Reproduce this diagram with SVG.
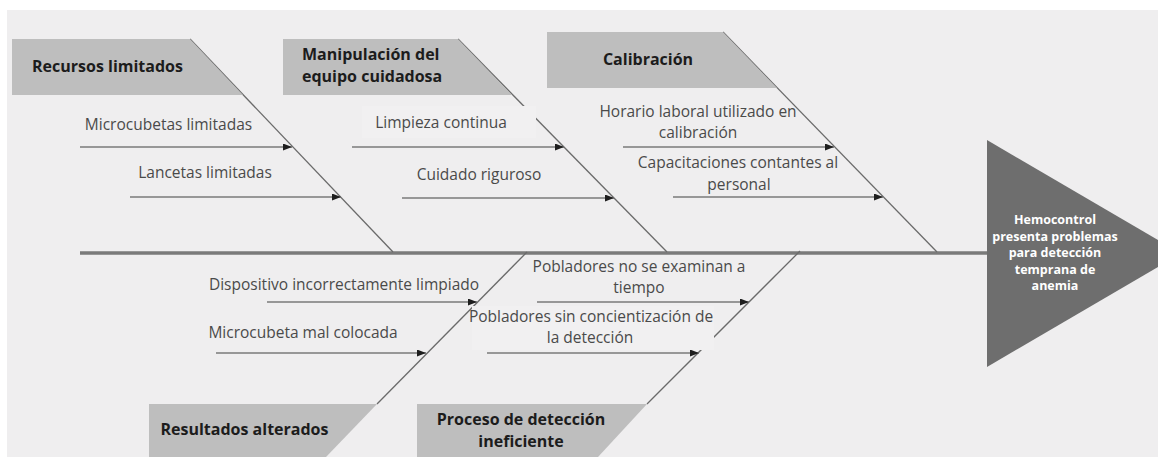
<svg xmlns="http://www.w3.org/2000/svg" width="1158" height="457" viewBox="0 0 1158 457">
<defs>
<marker id="ah" markerUnits="userSpaceOnUse" markerWidth="9" markerHeight="7" refX="9" refY="3.5" orient="auto"><path d="M0,0 L9,3.5 L0,7 z" fill="#1e1e1e"/></marker>
<style>
.bg{fill:#efeeef}
.box{fill:#bebebe}
.tb{fill:#f1f0f1}
.diag{stroke:#6a6a6a;stroke-width:1.3;fill:none}
.arr{stroke:#7a7a7a;stroke-width:1.6;fill:none;marker-end:url(#ah)}
.spine{stroke:#7a7a7a;stroke-width:3.5}
.t{font-family:"Open Sans","DejaVu Sans",sans-serif;font-size:15.5px;fill:#4a4a4a;text-anchor:middle}
.b{font-family:"Open Sans","DejaVu Sans",sans-serif;font-size:16px;font-weight:bold;fill:#1c1c1c}
.h{font-family:"Open Sans","DejaVu Sans",sans-serif;font-size:12.5px;font-weight:bold;fill:#ffffff;text-anchor:middle}
</style>
</defs>
<rect x="0" y="0" width="1158" height="457" fill="#ffffff"/>
<rect class="bg" x="7" y="10" width="1151" height="447"/>

<g id="connectors">
<line class="spine" x1="80" y1="253" x2="990" y2="253"/>
<line class="diag" x1="190" y1="39" x2="393" y2="252"/>
<line class="diag" x1="458" y1="39" x2="667" y2="252"/>
<line class="diag" x1="723" y1="32" x2="937" y2="252"/>
<line class="diag" x1="377" y1="404" x2="527" y2="252"/>
<line class="diag" x1="647" y1="404" x2="800" y2="251"/>
</g>

<g id="head">
<polygon points="987,140 1181,253.5 987,367" fill="#6e6e6e"/>
<text class="h" x="1055" y="224">Hemocontrol</text>
<text class="h" x="1055" y="240.5">presenta problemas</text>
<text class="h" x="1055" y="257">para detección</text>
<text class="h" x="1055" y="273.5">temprana de</text>
<text class="h" x="1055" y="290">anemia</text>
</g>

<g id="cat-recursos">
<polygon class="box" points="12,39 190,39 243,95 12,95"/>
<text class="b" x="32" y="72">Recursos limitados</text>
</g>
<g id="cat-manipulacion">
<polygon class="box" points="283,39 458,39 512,95 283,95"/>
<text class="b" x="302" y="60">Manipulación del</text>
<text class="b" x="302" y="82">equipo cuidadosa</text>
</g>
<g id="cat-calibracion">
<polygon class="box" points="547,32 723,32 777,88 547,88"/>
<text class="b" x="648" y="65" text-anchor="middle">Calibración</text>
</g>
<g id="cat-resultados">
<polygon class="box" points="149,404 377,404 326,457 149,457"/>
<text class="b" x="244.5" y="435" text-anchor="middle">Resultados alterados</text>
</g>
<g id="cat-proceso">
<polygon class="box" points="417,404 647,404 598,457 417,457"/>
<text class="b" x="521" y="425" text-anchor="middle">Proceso de detección</text>
<text class="b" x="521" y="447" text-anchor="middle">ineficiente</text>
</g>

<g id="cause-microcubetas">
<text class="t" x="168.5" y="130">Microcubetas limitadas</text>
<line class="arr" x1="80" y1="147" x2="292" y2="147"/>
</g>
<g id="cause-lancetas">
<text class="t" x="205" y="178">Lancetas limitadas</text>
<line class="arr" x1="130" y1="197" x2="341" y2="197"/>
</g>
<g id="cause-limpieza">
<rect class="tb" x="362" y="106" width="174" height="32"/>
<text class="t" x="441" y="128">Limpieza continua</text>
<line class="arr" x1="352" y1="147" x2="564" y2="147"/>
</g>
<g id="cause-cuidado">
<text class="t" x="479" y="180">Cuidado riguroso</text>
<line class="arr" x1="402" y1="198" x2="614" y2="198"/>
</g>
<g id="cause-horario">
<text class="t" x="698" y="117">Horario laboral utilizado en</text>
<text class="t" x="698" y="138">calibración</text>
<line class="arr" x1="623" y1="147" x2="834" y2="147"/>
</g>
<g id="cause-capacitaciones">
<text class="t" x="738" y="168">Capacitaciones contantes al</text>
<text class="t" x="739" y="190">personal</text>
<line class="arr" x1="673" y1="197" x2="883" y2="197"/>
</g>
<g id="cause-dispositivo">
<text class="t" x="344" y="290">Dispositivo incorrectamente limpiado</text>
<line class="arr" x1="267" y1="302" x2="477" y2="302"/>
</g>
<g id="cause-microcubeta">
<text class="t" x="303" y="338">Microcubeta mal colocada</text>
<line class="arr" x1="216" y1="353" x2="426" y2="353"/>
</g>
<g id="cause-examinan">
<text class="t" x="639" y="272">Pobladores no se examinan a</text>
<text class="t" x="639" y="293">tiempo</text>
<line class="arr" x1="537" y1="302" x2="749" y2="302"/>
</g>
<g id="cause-concientizacion">
<rect class="tb" x="472" y="306" width="242" height="44"/>
<text class="t" x="591" y="322">Pobladores sin concientización de</text>
<text class="t" x="590" y="343">la detección</text>
<line class="arr" x1="487" y1="353" x2="699" y2="353"/>
</g>
</svg>
